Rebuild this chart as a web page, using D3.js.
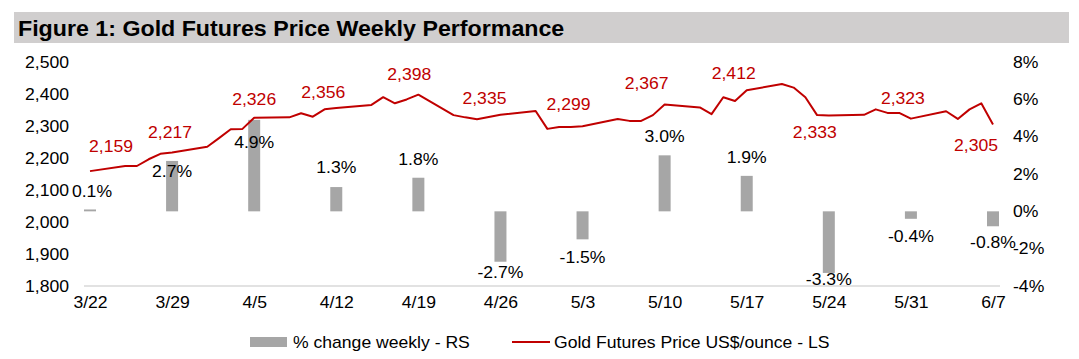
<!DOCTYPE html>
<html>
<head>
<meta charset="utf-8">
<script src="https://cdnjs.cloudflare.com/ajax/libs/d3/7.8.5/d3.min.js"></script>
<style>
  body { margin: 0; background: #fff; }
  svg { display: block; font-family: 'Liberation Sans', Arial, sans-serif; }
</style>
</head>
<body>
<svg></svg>
<script>
var width = 1079;
var height = 359;

// weekly (friday) data
var weeks = ['2024-03-22', '2024-03-29', '2024-04-05', '2024-04-12', '2024-04-19', '2024-04-26',
             '2024-05-03', '2024-05-10', '2024-05-17', '2024-05-24', '2024-05-31', '2024-06-07'];
var weeklyChange = [0.1, 2.7, 4.9, 1.3, 1.8, -2.7, -1.5, 3.0, 1.9, -3.3, -0.4, -0.8];
var weeklyClose = [2159, 2217, 2326, 2356, 2398, 2335, 2299, 2367, 2412, 2333, 2323, 2305];

// daily gold futures price
var days = ['2024-03-22', '2024-03-25', '2024-03-26', '2024-03-27', '2024-03-28', '2024-03-29',
            '2024-04-01', '2024-04-02', '2024-04-03', '2024-04-04', '2024-04-05',
            '2024-04-08', '2024-04-09', '2024-04-10', '2024-04-11', '2024-04-12',
            '2024-04-15', '2024-04-16', '2024-04-17', '2024-04-18', '2024-04-19',
            '2024-04-22', '2024-04-23', '2024-04-24', '2024-04-25', '2024-04-26',
            '2024-04-29', '2024-04-30', '2024-05-01', '2024-05-02', '2024-05-03',
            '2024-05-06', '2024-05-07', '2024-05-08', '2024-05-09', '2024-05-10',
            '2024-05-13', '2024-05-14', '2024-05-15', '2024-05-16', '2024-05-17',
            '2024-05-20', '2024-05-21', '2024-05-22', '2024-05-23', '2024-05-24',
            '2024-05-27', '2024-05-28', '2024-05-29', '2024-05-30', '2024-05-31',
            '2024-06-03', '2024-06-04', '2024-06-05', '2024-06-06', '2024-06-07'];
var dailyPrice = [2159, 2175, 2175, 2196, 2213, 2217,
                  2235, 2262, 2290, 2291, 2326,
                  2327, 2340, 2329, 2352, 2356,
                  2366, 2390, 2371, 2383, 2398,
                  2334, 2327, 2321, 2328, 2335,
                  2347, 2291, 2297, 2297, 2299,
                  2322, 2316, 2316, 2334, 2367,
                  2358, 2337, 2390, 2378, 2412,
                  2431, 2420, 2390, 2334, 2333,
                  2335, 2352, 2341, 2341, 2323,
                  2346, 2322, 2352, 2371, 2305];

var leftTicks = [1800, 1900, 2000, 2100, 2200, 2300, 2400, 2500];
var rightTicks = [-4, -2, 0, 2, 4, 6, 8];

// label nudges (layout only): [dx, dy] in px
var priceLabelNudge = [[21, -25], [-2, -20], [0, -18], [-13, -16], [-9, -20], [-16, -16],
                       [-14, -22], [-18, -21], [-13, -17], [-14, 17], [-8, -20], [-17, 21]];
var pctLabelNudge = [[2, -18], [0, 10], [0, 23], [0, -20], [0, -18], [0, 11],
                     [0, 18], [0, -19], [0, -18], [0, 6], [0, 18], [0, 16]];

var parse = d3.timeParse('%Y-%m-%d');
var red = '#c00000';
var barColor = '#a6a6a6';

var svg = d3.select('svg')
      .attr('width', width)
      .attr('height', height);

//title band
svg.append('rect')
    .attr('x', 14)
    .attr('y', 12)
    .attr('width', 1055)
    .attr('height', 31)
    .attr('fill', '#d0cece');

svg.append('text')
    .attr('class', 'title')
    .attr('x', 18)
    .attr('y', 36)
    .style('font-size', '21.5px')
    .style('font-weight', 'bold')
    .attr('fill', '#000')
    .text('Figure 1: Gold Futures Price Weekly Performance');

var xScale = d3.scaleTime()
        .domain([parse(weeks[0]), parse(weeks[weeks.length - 1])])
        .range([90, 993]);

var yLeft = d3.scaleLinear()
        .domain([1800, 2500])
        .range([286, 62]);

var yRight = d3.scaleLinear()
        .domain([-4, 8])
        .range([286, 62]);

//axis line
svg.append('line')
    .attr('x1', 84)
    .attr('x2', 1000)
    .attr('y1', yLeft(1800))
    .attr('y2', yLeft(1800))
    .attr('stroke', '#d9d9d9')
    .attr('stroke-width', 1.5);

var xAxis = d3.axisBottom(xScale)
        .tickValues(weeks.map(parse))
        .tickFormat(d3.timeFormat('%-m/%-d'))
        .tickSize(0)
        .tickPadding(11);

var leftAxis = d3.axisLeft(yLeft)
        .tickValues(leftTicks)
        .tickFormat(d3.format(','))
        .tickSize(0)
        .tickPadding(0);

var rightAxis = d3.axisRight(yRight)
        .tickValues(rightTicks)
        .tickFormat(d => d + '%')
        .tickSize(0)
        .tickPadding(0);

function styleAxis(g) {
  g.select('.domain').remove();
  g.selectAll('text')
    .attr('fill', '#000')
    .style('font-size', '16px')
    .style('font-family', "'Liberation Sans', Arial, sans-serif");
}

svg.append('g')
    .attr('transform', `translate(0, ${yLeft(1800)})`)
    .call(xAxis)
    .call(styleAxis);

svg.append('g')
    .attr('transform', 'translate(69, 0)')
    .call(leftAxis)
    .call(styleAxis);

svg.append('g')
    .attr('transform', 'translate(1013, 0)')
    .call(rightAxis)
    .call(styleAxis);

//weekly % bars
var barData = weeks.map((w, i) => ({date: parse(w), value: weeklyChange[i], i: i}));

svg.selectAll('rect.bar')
  .data(barData)
  .enter()
  .append('rect')
    .attr('class', 'bar')
    .attr('x', d => xScale(d.date) - 6)
    .attr('width', 12)
    .attr('y', d => yRight(Math.max(0, d.value)))
    .attr('height', d => Math.abs(yRight(d.value) - yRight(0)))
    .attr('fill', barColor);

svg.selectAll('text.pct')
  .data(barData)
  .enter()
  .append('text')
    .attr('class', 'pct')
    .attr('x', d => xScale(d.date) + pctLabelNudge[d.i][0])
    .attr('y', d => yRight(d.value) + pctLabelNudge[d.i][1])
    .attr('dy', '0.35em')
    .style('text-anchor', 'middle')
    .style('font-size', '16px')
    .attr('fill', '#000')
    .text(d => d.value.toFixed(1) + '%');

//daily price line
var lineData = days.map((d, i) => ({date: parse(d), value: dailyPrice[i]}));

var line = d3.line()
      .x(d => xScale(d.date))
      .y(d => yLeft(d.value));

svg.append('path')
    .datum(lineData)
    .attr('d', line)
    .attr('fill', 'none')
    .attr('stroke', red)
    .attr('stroke-width', 2)
    .attr('stroke-linejoin', 'round');

svg.selectAll('text.price')
  .data(weeks)
  .enter()
  .append('text')
    .attr('class', 'price')
    .attr('x', (w, i) => xScale(parse(w)) + priceLabelNudge[i][0])
    .attr('y', (w, i) => yLeft(weeklyClose[i]) + priceLabelNudge[i][1])
    .attr('dy', '0.35em')
    .style('text-anchor', 'middle')
    .style('font-size', '16px')
    .attr('fill', red)
    .text((w, i) => d3.format(',')(weeklyClose[i]));

//legend
var legend = svg.append('g')
      .attr('transform', 'translate(0, 342)');

legend.append('rect')
    .attr('x', 250)
    .attr('y', -5)
    .attr('width', 37)
    .attr('height', 10)
    .attr('fill', barColor);

legend.append('text')
    .attr('x', 293)
    .attr('dy', '0.35em')
    .style('font-size', '16px')
    .text('% change weekly - RS');

legend.append('line')
    .attr('x1', 512)
    .attr('x2', 550)
    .attr('stroke', red)
    .attr('stroke-width', 2);

legend.append('text')
    .attr('x', 554)
    .attr('dy', '0.35em')
    .style('font-size', '16px')
    .text('Gold Futures Price US$/ounce - LS');

// the source text is a little wider than plain arial, stretch it around its anchor
svg.selectAll('text').each(function() {
  var t = d3.select(this);
  var x = +t.attr('x') || 0;
  var sx = t.classed('title') ? 1.08 : 1.1;
  t.attr('transform', `translate(${x}, 0) scale(${sx}, 1) translate(${-x}, 0)`);
});
</script>
</body>
</html>
